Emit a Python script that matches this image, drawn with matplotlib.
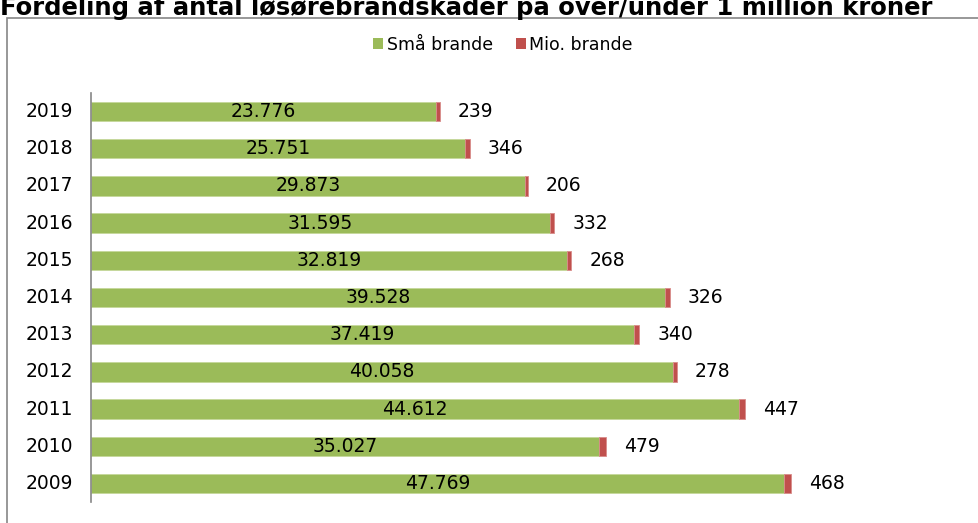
import matplotlib
matplotlib.use("Agg")
import matplotlib.pyplot as plt
from matplotlib.patches import Rectangle, Patch

years = ["2009", "2010", "2011", "2012", "2013", "2014", "2015", "2016", "2017", "2018", "2019"]
small = [47769, 35027, 44612, 40058, 37419, 39528, 32819, 31595, 29873, 25751, 23776]
mio = [468, 479, 447, 278, 340, 326, 268, 332, 206, 346, 239]
title = "Fordeling af antal løsørebrandskader på over/under 1 million kroner"
series_names = ["Små brande", "Mio. brande"]

GREEN = "#9BBB59"
RED = "#C0504D"

def fmt(v):
    return f"{v:,}".replace(",", ".")

plt.rcParams['font.family'] = ['DejaVu Sans']

W, H = 979, 523
fig = plt.figure(figsize=(W / 100, H / 100), dpi=100)

# outer chart border
fig.patches.append(Rectangle((7 / W, -0.01), 1.0, 1 - 18 / H + 0.01, transform=fig.transFigure,
                             fill=False, edgecolor="#868686", linewidth=1.2))

fig.text(0.0, 1 - 15 / H, title, fontsize=17.5, fontweight="bold", ha="left", va="baseline")

ax = fig.add_axes([91 / W, 1 - 502 / H, (962 - 91) / W, (502 - 93) / H])
y = list(range(len(years)))
ax.barh(y, small, height=0.52, color=GREEN, edgecolor="#C5D89B", linewidth=0.6)
ax.barh(y, mio, left=small, height=0.52, color=RED, edgecolor="#D98C8A", linewidth=0.6)
ax.set_xlim(0, 60000)
ax.set_ylim(-0.5, len(years) - 0.5)
ax.set_yticks(y)
ax.set_yticklabels(years, fontsize=13.5, va="center")
ax.tick_params(axis="y", length=0, pad=13)
ax.set_xticks([])
for s in ["top", "right", "bottom"]:
    ax.spines[s].set_visible(False)
ax.spines["left"].set_color("#868686")
ax.spines["left"].set_linewidth(1.2)

for i, (s, m) in enumerate(zip(small, mio)):
    ax.text(s / 2, i, fmt(s), ha="center", va="center", fontsize=13.5, color="#000000")
    ax.annotate(fmt(m), xy=(s + m, i), xytext=(13, 0), textcoords="offset points",
                ha="left", va="center", fontsize=13.5, color="#000000")

handles = [Patch(facecolor=GREEN, edgecolor="none"), Patch(facecolor=RED, edgecolor="none")]
fig.legend(handles, series_names, loc="center", bbox_to_anchor=(503 / W, 1 - 45 / H), ncol=2,
           frameon=False, fontsize=12.5, handlelength=0.6, handleheight=0.6,
           handletextpad=0.2, columnspacing=1.3)

fig.savefig("out.png", dpi=100)
